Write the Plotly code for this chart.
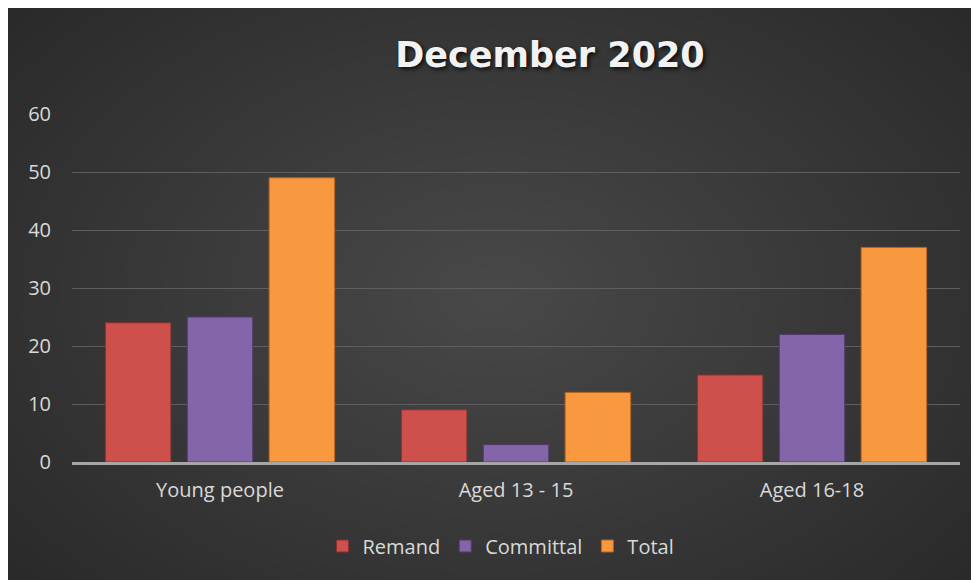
import plotly.graph_objects as go

categories = ["Young people", "Aged 13 - 15", "Aged 16-18"]
remand = [24, 9, 15]
committal = [25, 3, 22]
total = [49, 12, 37]
y_ticks = [0, 10, 20, 30, 40, 50, 60]

W, H = 971, 572
ML, MR, MT, MB = 64, 19, 106, 118
pw, ph = W - ML - MR, H - MT - MB

def px_to_paper_x(px):
    return (px - ML) / pw

def px_to_paper_y(py):
    return (H - MB - py) / ph

fig = go.Figure()
series = [
    ("Remand", remand, "#cd504d", "#8e2f2c"),
    ("Committal", committal, "#8565a9", "#4f3a6a"),
    ("Total", total, "#f8983f", "#b8631c"),
]
for name, vals, col, edge in series:
    fig.add_trace(go.Bar(
        x=categories, y=vals, name=name,
        marker=dict(color=col, line=dict(color=edge, width=1)),
    ))

# radial-ish background gradient
shapes = []
N = 30
cx, cy = W * 0.5, H * 0.5
for i in range(N):
    f = 1 - i / N
    rx, ry = 620 * f, 420 * f
    shapes.append(dict(
        type="circle", layer="below", xref="paper", yref="paper",
        x0=px_to_paper_x(cx - rx), x1=px_to_paper_x(cx + rx),
        y0=px_to_paper_y(cy + ry), y1=px_to_paper_y(cy - ry),
        fillcolor="rgba(255,255,255,0.0085)", line=dict(width=0),
    ))

fig.update_layout(
    width=W, height=H,
    margin=dict(l=ML, r=MR, t=MT, b=MB),
    paper_bgcolor="#2a2a2a", plot_bgcolor="rgba(0,0,0,0)",
    font=dict(family="Open Sans", size=20, color="#d9d9d9"),
    title=dict(
        text="<b>December 2020</b>",
        font=dict(family="DejaVu Sans", size=35, color="#f2f2f2",
                  shadow="2px 2px 4px rgba(0,0,0,0.8)"),
        x=542 / W, xanchor="center", xref="container",
        y=1 - 47 / H, yanchor="middle", yref="container",
    ),
    bargap=0.17, bargroupgap=0.2,
    showlegend=True,
    legend=dict(orientation="h", x=px_to_paper_x(493), xanchor="center",
                y=px_to_paper_y(538), yanchor="middle",
                font=dict(size=20, color="#d9d9d9"),
                bgcolor="rgba(0,0,0,0)"),
    shapes=shapes,
    xaxis=dict(showgrid=False, showline=True, linecolor="#a6a6a6", linewidth=3,
               ticks="", tickfont=dict(size=20, color="#d9d9d9"),
               ticklabelstandoff=8),
    yaxis=dict(range=[0, 60], tickvals=y_ticks, showgrid=True,
               gridcolor="#5e5e5e", gridwidth=1, zeroline=False,
               showline=False, ticks="", ticklabelstandoff=20,
               tickfont=dict(size=20, color="#d9d9d9")),
)

fig.write_html("out.html")
